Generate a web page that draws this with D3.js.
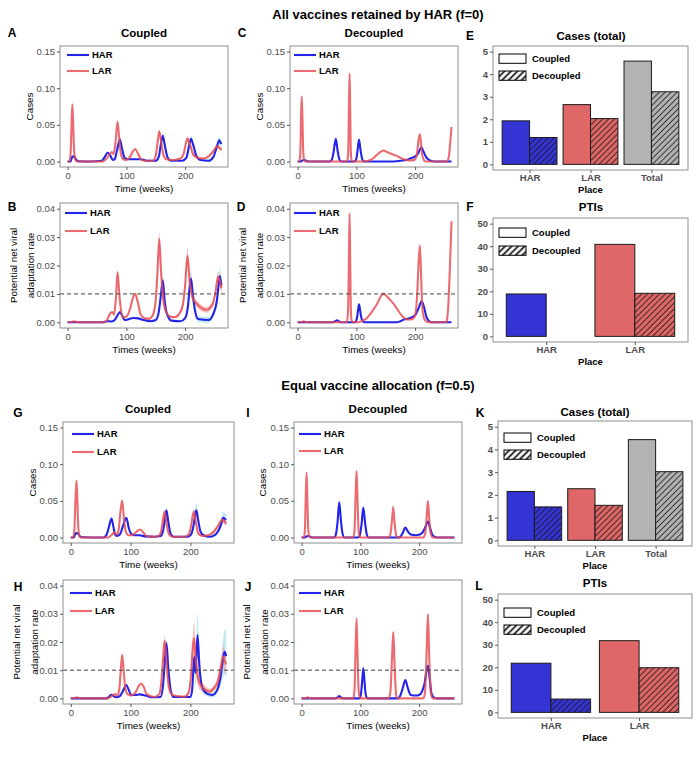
<!DOCTYPE html>
<html><head><meta charset="utf-8">
<script src="https://cdn.jsdelivr.net/npm/d3@7"></script>
<style>
body{margin:0;background:#fff}
svg{display:block;font-family:"Liberation Sans",Arial,Helvetica,sans-serif}
</style></head><body>
<svg id="chart" width="700" height="757"></svg>
<script>
// ---------------- DATA ----------------
const weekTicks = [0, 100, 200];
const caseTicks = [0, 0.05, 0.10, 0.15];
const rateTicks = [0, 0.01, 0.02, 0.03, 0.04];
const placeCats3 = ["HAR", "LAR", "Total"];
const placeCats2 = ["HAR", "LAR"];
const barTicksCases = [0, 1, 2, 3, 4, 5];
const barTicksPTI = [0, 10, 20, 30, 40, 50];
const seriesNames = ["HAR", "LAR"];
const modeNames = ["Coupled", "Decoupled"];

// Bars (E, F, K, L)
const casesF0Coupled = [1.93, 2.65, 4.58];
const casesF0Decoupled = [1.19, 2.03, 3.22];
const ptisF0Coupled = [18.8, 40.8];
const ptisF0Decoupled = [0, 19.1];
const casesF05Coupled = [2.15, 2.27, 4.43];
const casesF05Decoupled = [1.47, 1.54, 3.02];
const ptisF05Coupled = [21.8, 31.8];
const ptisF05Decoupled = [5.9, 19.8];

// Time series: [week, mean, band half-width]
const A_HAR = [[0,0,0],[5,0,0],[7,0.005,0],[9,0.007,0],[12,0.006,0],[15,0.002,0],[19,0.0003,0],[40,0,0],[58,0.001,0],[63,0.006,0],[68,0.012,0],[72,0.009,0],[77,0.002,0],[80,0.003,0],[84,0.015,0],[89,0.030,0.001],[93,0.016,0],[97,0.005,0],[103,0.003,0],[115,0.003,0],[125,0.003,0],[135,0.001,0],[150,0.001,0],[155,0.006,0.001],[159,0.025,0.003],[162,0.035,0.004],[165,0.024,0.003],[170,0.006,0.001],[176,0.001,0],[195,0.001,0],[202,0.005,0.001],[207,0.022,0.003],[210,0.031,0.004],[214,0.022,0.004],[219,0.008,0.002],[226,0.002,0.001],[240,0.001,0.001],[248,0.006,0.002],[254,0.020,0.004],[258,0.029,0.005],[260,0.026,0.005],[262,0.024,0.005]];
const A_LAR = [[0,0,0],[3,0,0],[5,0.01,0],[6.5,0.045,0],[8,0.078,0],[9.5,0.05,0],[11,0.015,0],[13,0.003,0],[16,0,0],[60,0,0],[65,0.003,0],[70,0.008,0],[75,0.013,0],[78,0.010,0],[81,0.022,0],[85,0.054,0.002],[88,0.03,0.001],[91,0.009,0],[95,0.003,0],[100,0.002,0],[106,0.006,0],[111,0.014,0],[115,0.017,0],[119,0.012,0],[124,0.004,0],[130,0.001,0],[145,0.001,0],[150,0.008,0.001],[153,0.025,0.002],[156,0.041,0.003],[159,0.028,0.002],[163,0.009,0.001],[168,0.003,0],[180,0.002,0],[192,0.004,0.001],[198,0.012,0.002],[201,0.024,0.003],[204,0.031,0.004],[208,0.024,0.003],[213,0.011,0.002],[219,0.006,0.001],[230,0.004,0.001],[240,0.007,0.001],[248,0.014,0.002],[255,0.021,0.003],[259,0.018,0.003],[262,0.016,0.003]];
const B_HAR = [[0,0,0],[60,0,0],[67,0.0004,0],[75,0.0003,0],[80,0.0008,0],[85,0.0025,0],[89,0.0036,0],[93,0.0022,0],[97,0.0008,0],[105,0.0012,0],[112,0.0015,0],[120,0.0014,0],[128,0.0009,0],[141,0.0004,0],[150,0.0008,0],[155,0.0035,0.0005],[159,0.010,0.001],[162,0.0148,0.0015],[165,0.008,0.001],[169,0.003,0.0005],[177,0.0006,0],[192,0.0004,0],[200,0.0015,0.0005],[205,0.006,0.001],[208,0.013,0.002],[210,0.0154,0.003],[213,0.010,0.002],[217,0.004,0.001],[222,0.0012,0.001],[240,0.0008,0.001],[248,0.003,0.001],[254,0.0075,0.002],[257,0.013,0.003],[259,0.0163,0.003],[261,0.014,0.003],[262,0.013,0.003]];
const B_LAR = [[0,0,0],[6,0,0],[10,0.0004,0],[14,0.0002,0],[20,0,0],[62,0,0],[68,0.0012,0],[72,0.003,0],[76,0.0036,0],[79,0.0027,0],[82,0.008,0],[85,0.0176,0.0005],[88,0.010,0.0005],[91,0.004,0],[95,0.0018,0],[100,0.002,0],[106,0.0045,0],[111,0.0085,0],[115,0.010,0],[119,0.0075,0],[124,0.003,0],[130,0.0015,0],[138,0.0012,0],[145,0.0025,0.0003],[150,0.008,0.001],[153,0.018,0.002],[156,0.0293,0.0025],[159,0.018,0.002],[163,0.0077,0.001],[168,0.0035,0.0005],[175,0.002,0.0003],[182,0.0018,0.0003],[190,0.003,0.0005],[196,0.006,0.001],[200,0.013,0.002],[204,0.0234,0.003],[208,0.014,0.002],[211,0.010,0.0015],[215,0.0078,0.0012],[220,0.0065,0.0012],[228,0.005,0.0012],[237,0.0044,0.001],[244,0.0055,0.001],[248,0.0071,0.001],[252,0.011,0.0015],[256,0.016,0.002],[259,0.0145,0.002],[262,0.012,0.002]];
const C_HAR = [[0,0],[6,0],[8,0.0015],[11,0.002],[14,0.0015],[17,0.0002],[20,0],[55,0],[58,0.002],[61,0.012],[65,0.031],[68,0.015],[71,0.003],[74,0],[97,0],[100,0.004],[102,0.015],[104.5,0.030],[107,0.016],[110,0.003],[113,0],[165,0],[175,0.001],[185,0.002],[192,0.004],[200,0.007],[205,0.011],[208,0.016],[211,0.019],[214,0.014],[218,0.007],[222,0.003],[228,0.0008],[235,0],[262,0]];
const C_LAR = [[0,0],[3,0],[4.5,0.01],[5.8,0.06],[7,0.0886],[8.3,0.055],[9.5,0.015],[11,0.002],[13,0],[84,0],[86,0.01],[87.5,0.08],[88.5,0.12],[89.5,0.07],[90.5,0.015],[92,0.001],[94,0],[112,0],[120,0.001],[128,0.004],[135,0.009],[141,0.013],[146,0.015],[152,0.013],[158,0.011],[164,0.009],[169,0.0075],[175,0.005],[181,0.003],[188,0.0015],[195,0.0015],[200,0.003],[203,0.010],[206,0.030],[208,0.037],[210,0.025],[212,0.009],[215,0.002],[219,0],[254,0],[256,0.002],[258,0.01],[260,0.028],[262,0.047]];
const D_HAR = [[0,0],[60,0],[64,0.0004],[67,0.0007],[70,0.0004],[74,0],[98,0],[101,0.0015],[103,0.0045],[104.5,0.0063],[106,0.0048],[108,0.002],[111,0.0003],[114,0],[168,0],[175,0.0004],[181,0.001],[188,0.0013],[195,0.0018],[201,0.0028],[206,0.005],[211,0.0074],[215,0.0055],[219,0.002],[223,0.0006],[228,0],[262,0]];
const D_LAR = [[0,0],[6,0],[10,0.0004],[14,0.0001],[18,0],[84,0],[86,0.005],[87.5,0.025],[88.5,0.0383],[89.5,0.022],[90.5,0.005],[92,0.0005],[95,0],[102,0],[110,0.0005],[118,0.0015],[124,0.003],[130,0.0048],[136,0.0068],[141,0.009],[146,0.0101],[150,0.0095],[153,0.0089],[158,0.0078],[164,0.0063],[170,0.0045],[175,0.003],[180,0.0018],[184,0.0012],[190,0.001],[195,0.0011],[200,0.0025],[203,0.008],[206,0.021],[208,0.027],[210,0.018],[212,0.006],[215,0.0015],[220,0.0002],[225,0],[253,0],[255,0.002],[257,0.008],[259,0.018],[261,0.030],[262,0.0356]];
const G_HAR = [[0,0,0],[5,0,0],[7,0.004,0],[9,0.006,0],[12,0.0055,0],[15,0.002,0],[19,0.0003,0],[55,0,0],[60,0.004,0],[64,0.015,0],[68,0.026,0.001],[71,0.016,0],[74,0.004,0],[77,0.002,0],[82,0.004,0],[87,0.015,0],[93,0.027,0.001],[97,0.013,0],[101,0.005,0],[108,0.003,0],[115,0.003,0],[125,0.0015,0],[140,0.001,0],[150,0.002,0],[154,0.008,0.001],[157,0.022,0.002],[160,0.037,0.003],[163,0.022,0.002],[167,0.005,0.001],[172,0.001,0],[195,0.001,0],[201,0.004,0.001],[205,0.015,0.004],[208,0.030,0.008],[210,0.037,0.01],[213,0.024,0.007],[217,0.008,0.003],[222,0.003,0.001],[232,0.001,0.001],[240,0.003,0.001],[246,0.008,0.002],[251,0.017,0.005],[255,0.027,0.008],[258,0.025,0.008],[260,0.024,0.008]];
const G_LAR = [[0,0,0],[4,0,0],[6,0.01,0],[7.8,0.05,0],[9.5,0.078,0],[11,0.05,0],[12.5,0.015,0],[14.5,0.002,0],[18,0,0],[62,0,0],[66,0.002,0],[70,0.005,0],[73.5,0.007,0],[77,0.004,0],[80,0.01,0],[83,0.035,0.002],[86,0.05,0.002],[89,0.025,0.001],[92,0.008,0],[97,0.003,0],[103,0.003,0],[110,0.008,0],[116,0.011,0],[121,0.007,0],[127,0.002,0],[140,0.001,0],[148,0.003,0],[152,0.012,0.001],[155,0.028,0.002],[157,0.035,0.003],[160,0.02,0.002],[164,0.005,0.001],[170,0.001,0],[190,0.001,0],[197,0.004,0.001],[201,0.015,0.003],[204,0.03,0.004],[206,0.035,0.005],[209,0.022,0.004],[213,0.006,0.002],[220,0.002,0.001],[230,0.003,0.001],[238,0.007,0.002],[245,0.014,0.003],[252,0.023,0.004],[255,0.024,0.004],[258,0.021,0.004],[260,0.019,0.004]];
const H_HAR = [[0,0,0],[60,0,0],[65,0.0008,0],[68,0.0013,0],[72,0.0008,0],[76,0.0004,0],[82,0.0008,0],[87,0.0025,0],[93,0.0047,0],[97,0.003,0],[101,0.0012,0],[108,0.0012,0],[115,0.0014,0],[125,0.001,0],[135,0.0004,0],[150,0.0005,0],[154,0.004,0.0005],[157,0.012,0.001],[160,0.0196,0.0015],[163,0.011,0.001],[167,0.003,0.0005],[172,0.0005,0],[200,0.0005,0],[203,0.003,0.002],[205.5,0.012,0.004],[207,0.0148,0.005],[208.5,0.009,0.005],[210,0.014,0.006],[212,0.0225,0.008],[215,0.012,0.005],[219,0.0045,0.002],[227,0.0018,0.001],[237,0.0012,0.001],[245,0.003,0.001],[250,0.007,0.003],[254,0.013,0.006],[257,0.0165,0.008],[260,0.015,0.008]];
const H_LAR = [[0,0,0],[6,0,0],[10,0.0004,0],[14,0.0001,0],[20,0,0],[62,0,0],[67,0.0006,0],[71,0.0012,0],[74,0.0015,0],[78,0.001,0],[81,0.003,0],[84,0.011,0.0005],[86,0.0154,0.0005],[88,0.011,0.0005],[91,0.004,0],[95,0.0015,0],[101,0.001,0],[108,0.002,0],[114,0.0045,0],[118,0.0053,0],[122,0.004,0],[127,0.0015,0],[140,0.0005,0],[148,0.0015,0],[152,0.007,0.001],[155,0.016,0.002],[157,0.0204,0.002],[160,0.013,0.0015],[164,0.004,0.001],[170,0.0012,0],[190,0.0006,0],[197,0.002,0.001],[201,0.008,0.002],[204,0.018,0.004],[206,0.0214,0.006],[209,0.014,0.005],[213,0.007,0.003],[218,0.0045,0.002],[224,0.0032,0.0015],[232,0.0024,0.001],[240,0.0038,0.001],[246,0.006,0.002],[251,0.011,0.003],[255,0.0148,0.004],[258,0.013,0.004],[260,0.012,0.004]];
const I_HAR = [[0,0],[6,0],[8,0.0015],[11,0.002],[14,0.0015],[17,0.0003],[20,0],[55,0],[58,0.003],[61,0.02],[64,0.048],[67,0.022],[70,0.004],[73,0],[96,0],[99,0.003],[102,0.018],[105,0.041],[108,0.02],[111,0.004],[114,0],[163,0],[168,0.001],[172,0.006],[176.5,0.0137],[181,0.008],[186,0.004],[194,0.003],[201,0.004],[206,0.007],[211,0.015],[215,0.022],[219,0.012],[223,0.003],[228,0.0005],[232,0],[260,0]];
const I_LAR = [[0,0],[4,0],[5.5,0.01],[7,0.055],[8.4,0.0885],[9.8,0.05],[11.3,0.01],[13,0.001],[15,0],[88,0],[90,0.01],[92,0.06],[93.5,0.0907],[95,0.055],[97,0.01],[99,0.001],[101,0],[148,0],[151,0.004],[154,0.025],[156,0.0415],[158,0.022],[161,0.003],[164,0],[207,0],[210,0.004],[213,0.03],[215,0.0497],[217,0.027],[220,0.004],[223,0],[260,0]];
const J_HAR = [[0,0],[58,0],[61,0.0003],[64,0.0008],[67,0.0003],[71,0],[99,0],[101,0.0015],[103,0.006],[105,0.0107],[107,0.006],[109,0.0015],[112,0],[164,0],[168,0.001],[172,0.0035],[176.5,0.0065],[181,0.0035],[186,0.0012],[194,0.001],[200,0.0012],[205,0.0025],[209,0.005],[212,0.009],[215,0.0116],[218,0.007],[221,0.0018],[225,0.0003],[229,0],[260,0]];
const J_LAR = [[0,0],[6,0],[10,0.0004],[14,0.0001],[18,0],[88,0],[90,0.003],[92,0.019],[93.5,0.0283],[95,0.017],[97,0.003],[99,0.0003],[101,0],[148,0],[151,0.002],[154,0.015],[156,0.0235],[158,0.013],[161,0.001],[164,0],[207,0],[210,0.002],[213,0.018],[215,0.0299],[217,0.016],[220,0.002],[223,0],[260,0]];

// ---------------- STYLE ----------------
const COL = {
  harLine: "#2323ea", larLine: "#e64a50",
  harBand: "#a9e3f5", larBand: "#f4b0b0",
  harBar: "#3434d4", larBar: "#e06767", totBar: "#b3b3b3",
  frame: "#8f8f8f", tickText: "#4d4d4d"
};
const FONT = '"Liberation Sans", Arial, Helvetica, sans-serif';

const svg = d3.select("#chart");
const defs = svg.append("defs");

function hatch(id, bg, stroke, sw, gap) {
  const p = defs.append("pattern").attr("id", id)
    .attr("patternUnits", "userSpaceOnUse")
    .attr("width", gap).attr("height", gap)
    .attr("patternTransform", "rotate(45)");
  p.append("rect").attr("width", gap).attr("height", gap).attr("fill", bg);
  p.append("line").attr("x1", gap / 2).attr("y1", 0).attr("x2", gap / 2).attr("y2", gap)
    .attr("stroke", stroke).attr("stroke-width", sw);
}
hatch("hBlue", COL.harBar, "#1e1e40", 1, 4.2);
hatch("hRed", COL.larBar, "#3a2626", 1, 4.2);
hatch("hGray", COL.totBar, "#333", 1, 4.2);
hatch("hWhite", "#fff", "#000", 1.6, 4.6);

function text(x, y, str, o = {}) {
  const t = svg.append("text").attr("x", x).attr("y", y).attr("dy", "0.35em")
    .attr("text-anchor", o.anchor || "middle")
    .attr("font-family", FONT)
    .attr("font-size", o.size || 10)
    .attr("font-weight", o.bold ? "bold" : "normal")
    .attr("fill", o.fill || "#000")
    .text(str);
  if (o.rotate) t.attr("transform", `rotate(-90,${x},${y})`);
  return t;
}

function styleAxis(g, size, bold) {
  g.attr("font-family", null).attr("font-size", null);
  g.select(".domain").remove();
  g.selectAll(".tick line").attr("stroke", "#333").attr("stroke-width", 0.8);
  g.selectAll(".tick text").attr("fill", COL.tickText)
    .attr("font-family", FONT).attr("font-size", size)
    .attr("font-weight", bold ? "bold" : "normal");
}

let clipId = 0;
function linePanel(o) {
  const x = d3.scaleLinear().domain([-13, 273]).range([o.l, o.r]);
  const pad = o.max * 0.05;
  const y = d3.scaleLinear().domain([-pad, o.max + pad]).range([o.b, o.t]);
  const g = svg.append("g");
  const cid = "clip" + (clipId++);
  defs.append("clipPath").attr("id", cid).append("rect")
    .attr("x", o.l).attr("y", o.t).attr("width", o.r - o.l).attr("height", o.b - o.t);
  const inner = g.append("g").attr("clip-path", `url(#${cid})`);

  const cols = [
    { data: o.har, line: COL.harLine, band: COL.harBand, op: 1 },
    { data: o.lar, line: COL.larLine, band: COL.larBand, op: 0.82 }
  ];
  cols.forEach(s => {
    if (s.data[0].length > 2) {
      const area = d3.area().curve(d3.curveMonotoneX)
        .x(d => x(d[0])).y0(d => y(d[1] - d[2])).y1(d => y(d[1] + d[2]));
      inner.append("path").datum(s.data).attr("d", area)
        .attr("fill", s.band).attr("opacity", 0.75);
    }
  });
  cols.forEach(s => {
    const line = d3.line().curve(d3.curveMonotoneX).x(d => x(d[0])).y(d => y(d[1]));
    inner.append("path").datum(s.data).attr("d", line)
      .attr("fill", "none").attr("stroke", s.line).attr("stroke-width", 2.1)
      .attr("stroke-opacity", s.op).attr("stroke-linejoin", "round");
  });
  if (o.dashed) {
    inner.append("line").attr("x1", o.l).attr("x2", o.r)
      .attr("y1", y(o.dashed)).attr("y2", y(o.dashed))
      .attr("stroke", "#444").attr("stroke-width", 1).attr("stroke-dasharray", "4,3");
  }
  g.append("rect").attr("x", o.l).attr("y", o.t).attr("width", o.r - o.l).attr("height", o.b - o.t)
    .attr("fill", "none").attr("stroke", COL.frame).attr("stroke-width", 1);

  const xa = g.append("g").attr("transform", `translate(0,${o.b})`)
    .call(d3.axisBottom(x).tickValues(weekTicks).tickSize(3).tickPadding(2).tickFormat(d3.format("d")));
  styleAxis(xa, 9.5, false);
  const ya = g.append("g").attr("transform", `translate(${o.l},0)`)
    .call(d3.axisLeft(y).tickValues(o.ticks).tickSize(3).tickPadding(2).tickFormat(d3.format(".2f")));
  styleAxis(ya, 9.5, false);

  // legend
  [["HAR", COL.harLine, o.leg.y1, 1], ["LAR", COL.larLine, o.leg.y2, 0.82]].forEach(([nm, c, yy, op]) => {
    g.append("line").attr("x1", o.leg.x).attr("x2", o.leg.x + 22).attr("y1", yy).attr("y2", yy)
      .attr("stroke", c).attr("stroke-width", 2.1).attr("stroke-opacity", op);
    text(o.leg.x + 25, yy, nm, { anchor: "start", bold: true, size: 9.5 });
  });

  const cx = (o.l + o.r) / 2;
  text(cx, o.b + 22, o.xTitle, { size: 9.8 });
  o.yTitle.forEach((t, i) => text(o.yx[i], (o.t + o.b) / 2, t, { size: 9.8, rotate: true }));
}

function barPanel(o) {
  const n = o.cats.length;
  const x = d3.scaleLinear().domain([0.4, n + 0.6]).range([o.l, o.r]);
  const pad = o.max * 0.05;
  const y = d3.scaleLinear().domain([-pad, o.max + pad]).range([o.b, o.t]);
  const g = svg.append("g");
  const w = x(0.45) - x(0);
  const fills = [COL.harBar, COL.larBar, COL.totBar];
  const hatches = ["url(#hBlue)", "url(#hRed)", "url(#hGray)"];
  o.cats.forEach((c, i) => {
    const cx = x(i + 1);
    g.append("rect").attr("x", cx - w).attr("width", w)
      .attr("y", y(o.coupled[i])).attr("height", y(0) - y(o.coupled[i]))
      .attr("fill", fills[i]).attr("stroke", "#1a1a1a").attr("stroke-width", 1);
    g.append("rect").attr("x", cx).attr("width", w)
      .attr("y", y(o.decoupled[i])).attr("height", y(0) - y(o.decoupled[i]))
      .attr("fill", hatches[i]).attr("stroke", "#1a1a1a").attr("stroke-width", 1);
  });
  g.append("rect").attr("x", o.l).attr("y", o.t).attr("width", o.r - o.l).attr("height", o.b - o.t)
    .attr("fill", "none").attr("stroke", COL.frame).attr("stroke-width", 1);
  const xa = g.append("g").attr("transform", `translate(0,${o.b})`)
    .call(d3.axisBottom(x).tickValues(d3.range(1, n + 1)).tickSize(3).tickPadding(1)
      .tickFormat(i => o.cats[i - 1]));
  styleAxis(xa, 9.5, true);
  const ya = g.append("g").attr("transform", `translate(${o.l},0)`)
    .call(d3.axisLeft(y).tickValues(o.ticks).tickSize(3).tickPadding(2).tickFormat(d3.format("d")));
  styleAxis(ya, 9.5, true);
  text((o.l + o.r) / 2, o.b + 20, "Place", { bold: true, size: 9.5 });
  // legend
  [[modeNames[0], "#fff", o.leg.y1], [modeNames[1], "url(#hWhite)", o.leg.y2]].forEach(([nm, f, yy]) => {
    g.append("rect").attr("x", o.leg.x).attr("y", yy).attr("width", 27).attr("height", 9.3)
      .attr("fill", f).attr("stroke", "#000").attr("stroke-width", 1);
    text(o.leg.x + 33, yy + 4.7, nm, { anchor: "start", bold: true, size: 9.5 });
  });
}

// ---------------- TITLES ----------------
text(378, 14, "All vaccines retained by HAR (f=0)", { bold: true, size: 13 });
text(378, 385, "Equal vaccine allocation (f=0.5)", { bold: true, size: 13 });

const panelTitles = [["Coupled",144,33],["Decoupled",374,33],["Cases (total)",591,36],["PTIs",591,207],
  ["Coupled",148,409],["Decoupled",378,409],["Cases (total)",595,412],["PTIs",595,583]];
panelTitles.forEach(([t, x, y]) => text(x, y, t, { bold: true, size: 11.5 }));
const panelLetters = [["A",12,33],["B",12,207],["C",242,33],["D",241,207],["E",470,36],["F",470,207],
  ["G",18,413],["H",18,587],["I",248,413],["J",248,587],["K",480,413],["L",479,586]];
panelLetters.forEach(([t, x, y]) => text(x, y, t, { bold: true, size: 12 }));

// ---------------- PANELS ----------------
const rateTitle = ["Potential net viral", "adaptation rate"];
linePanel({ l: 60, r: 228, t: 46, b: 167, max: 0.15, ticks: caseTicks, har: A_HAR, lar: A_LAR,
  leg: { x: 67, y1: 55, y2: 71 }, xTitle: "Time (weeks)", yTitle: ["Cases"], yx: [30] });
linePanel({ l: 60, r: 228, t: 203, b: 328, max: 0.04, ticks: rateTicks, har: B_HAR, lar: B_LAR, dashed: 0.01,
  leg: { x: 65, y1: 213, y2: 231 }, xTitle: "Times (weeks)", yTitle: rateTitle, yx: [14, 31] });
linePanel({ l: 290, r: 458, t: 46, b: 167, max: 0.15, ticks: caseTicks, har: C_HAR, lar: C_LAR,
  leg: { x: 294, y1: 55, y2: 71 }, xTitle: "Times (weeks)", yTitle: ["Cases"], yx: [260] });
linePanel({ l: 290, r: 458, t: 203, b: 328, max: 0.04, ticks: rateTicks, har: D_HAR, lar: D_LAR, dashed: 0.01,
  leg: { x: 294, y1: 213, y2: 231 }, xTitle: "Times (weeks)", yTitle: rateTitle, yx: [243, 260] });
linePanel({ l: 63, r: 234, t: 422, b: 543, max: 0.15, ticks: caseTicks, har: G_HAR, lar: G_LAR,
  leg: { x: 72, y1: 434, y2: 452 }, xTitle: "Time (weeks)", yTitle: ["Cases"], yx: [33] });
linePanel({ l: 63, r: 234, t: 580, b: 704, max: 0.04, ticks: rateTicks, har: H_HAR, lar: H_LAR, dashed: 0.01,
  leg: { x: 70, y1: 593, y2: 611 }, xTitle: "Times (weeks)", yTitle: rateTitle, yx: [17, 35] });
linePanel({ l: 294, r: 462, t: 422, b: 543, max: 0.15, ticks: caseTicks, har: I_HAR, lar: I_LAR,
  leg: { x: 299, y1: 434, y2: 451 }, xTitle: "Times (weeks)", yTitle: ["Cases"], yx: [263] });
linePanel({ l: 294, r: 462, t: 580, b: 704, max: 0.04, ticks: rateTicks, har: J_HAR, lar: J_LAR, dashed: 0.01,
  leg: { x: 299, y1: 593, y2: 611 }, xTitle: "Times (weeks)", yTitle: rateTitle, yx: [247, 265] });

barPanel({ l: 493, r: 688, t: 46, b: 170, max: 5, ticks: barTicksCases, cats: placeCats3,
  coupled: casesF0Coupled, decoupled: casesF0Decoupled, leg: { x: 499, y1: 54, y2: 71 } });
barPanel({ l: 493, r: 688, t: 218, b: 342, max: 50, ticks: barTicksPTI, cats: placeCats2,
  coupled: ptisF0Coupled, decoupled: ptisF0Decoupled, leg: { x: 499, y1: 228, y2: 246 } });
barPanel({ l: 498, r: 692, t: 421, b: 546, max: 5, ticks: barTicksCases, cats: placeCats3,
  coupled: casesF05Coupled, decoupled: casesF05Decoupled, leg: { x: 504, y1: 433, y2: 450 } });
barPanel({ l: 498, r: 692, t: 594, b: 718, max: 50, ticks: barTicksPTI, cats: placeCats2,
  coupled: ptisF05Coupled, decoupled: ptisF05Decoupled, leg: { x: 504, y1: 608, y2: 625 } });
</script></body></html>
